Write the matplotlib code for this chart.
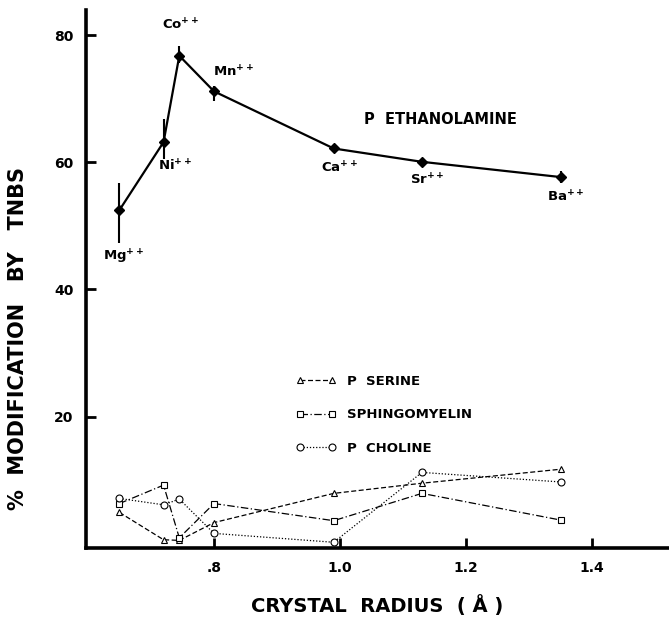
import matplotlib
matplotlib.use("Agg")
import matplotlib.pyplot as plt

# crystal radius of each divalent cation (angstrom)
ions = ["Mg", "Ni", "Co", "Mn", "Ca", "Sr", "Ba"]
radius = [0.65, 0.72, 0.745, 0.80, 0.99, 1.13, 1.35]

# % modification by TNBS
pe = [52.5, 63.2, 76.8, 71.2, 62.2, 60.1, 57.7]
pe_lo = [47.3, 60.6, 75.6, 69.7, 62.2, 60.1, 56.8]
pe_hi = [56.8, 66.9, 78.4, 72.0, 62.2, 60.1, 58.6]
serine = [4.9, 0.6, 0.5, 3.3, 7.9, 9.5, 11.7]
sphingo = [6.3, 9.2, 0.9, 6.3, 3.6, 7.9, 3.7]
choline = [7.1, 6.1, 7.0, 1.6, 0.2, 11.2, 9.7]

yticks = [20, 40, 60, 80]
xticks = [0.8, 1.0, 1.2, 1.4]
xticklabels = [".8", "1.0", "1.2", "1.4"]

# label offsets (points) for the cation names
label_off = [(3, -34), (8, -17), (1, 22), (14, 14), (4, -14), (4, -13), (4, -14)]


def main():
    plt.rcParams["font.family"] = "DejaVu Sans"
    plt.rcParams["font.weight"] = "bold"

    fig = plt.figure(figsize=(6.69, 6.26), dpi=100)
    ax = fig.add_axes([0.1286, 0.1246, 0.8714, 0.8594])

    # P ethanolamine with error bars
    ax.plot(radius, pe, color="black", lw=1.6, marker="D", ms=5.5, zorder=3)
    ax.vlines(radius, pe_lo, pe_hi, color="black", lw=1.5)
    for r, v, name, off in zip(radius, pe, ions, label_off):
        ax.annotate(name + r"$^{\mathbf{++}}$", (r, v), xytext=off,
                    textcoords="offset points", ha="center", va="center",
                    fontsize=9.5, fontweight="bold")
    ax.text(1.16, 66.7, "P  ETHANOLAMINE", ha="center", va="center",
            fontsize=10.5, fontweight="bold")

    # minor phospholipids
    kw = dict(color="black", lw=0.9, mfc="white", mec="black", mew=0.8)
    l1, = ax.plot(radius, serine, ls=(0, (4, 2)), marker="^", ms=4.5, **kw)
    l2, = ax.plot(radius, sphingo, ls=(0, (6, 2, 1, 2)), marker="s", ms=4, **kw)
    l3, = ax.plot(radius, choline, ls=(0, (1, 1.5)), marker="o", ms=5, **kw)

    ax.legend([l1, l2, l3], ["P  SERINE", "SPHINGOMYELIN", "P  CHOLINE"],
              loc="upper left", bbox_to_anchor=(0.36, 0.322), frameon=False,
              numpoints=2, handlelength=3.0, handletextpad=0.9,
              labelspacing=1.55, borderpad=0, borderaxespad=0,
              prop={"size": 9.5, "weight": "bold"})

    ax.set_xlim(0.597, 1.522)
    ax.set_ylim(-0.7, 84)
    ax.set_yticks(yticks)
    ax.set_xticks(xticks)
    ax.set_xticklabels(xticklabels)
    ax.tick_params(direction="in", length=7, width=2, pad=9, labelsize=10)

    for side in ["top", "right"]:
        ax.spines[side].set_visible(False)
    for side in ["left", "bottom"]:
        ax.spines[side].set_linewidth(2.6)

    ax.set_xlabel("CRYSTAL  RADIUS  ( Å )", fontsize=14, fontweight="bold",
                  labelpad=15)
    ax.set_ylabel("%  MODIFICATION   BY   TNBS", fontsize=15, fontweight="bold")
    ax.yaxis.set_label_coords(-0.10, 0.39)

    fig.savefig("out.png", dpi=100)


if __name__ == "__main__":
    main()
